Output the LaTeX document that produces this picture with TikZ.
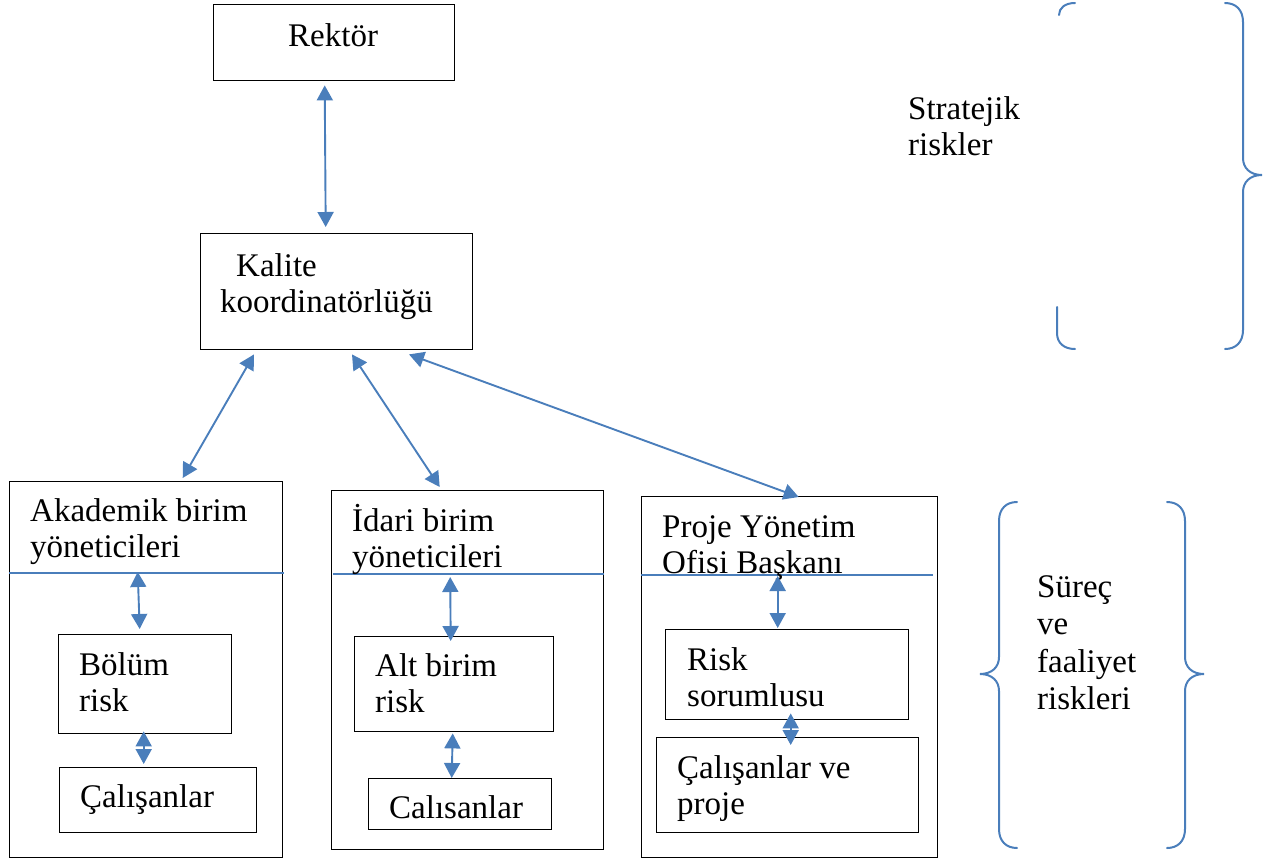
\documentclass[tikz,border=0pt]{standalone}
\usepackage{fontspec}
\setmainfont{Liberation Serif}
\usetikzlibrary{arrows.meta,calc}
\definecolor{myblue}{HTML}{4A7EBB}
\begin{document}
\begin{tikzpicture}[x=1pt,y=-1pt,
 rbox/.style={draw=black, line width=1.4pt, inner sep=0pt, anchor=north west},
 lbl/.style={font=\fontsize{33}{36}\selectfont, inner sep=0pt, anchor=base west, align=left},
 bl/.style={draw=myblue, line width=1.6pt},
 dbl/.style={draw=myblue, line width=1.9pt, {Triangle[length=15pt,width=16pt]}-{Triangle[length=15pt,width=16pt]}},
 brace/.style={draw=myblue, line width=2pt, line cap=round}]
\useasboundingbox (0,0) rectangle (1268,860);

% boxes
\node[rbox, minimum width=241pt, minimum height=76pt] (rektor) at (213,4) {};
\node[rbox, minimum width=272pt, minimum height=116pt] (kalite) at (200,233) {};
\node[rbox, minimum width=273pt, minimum height=376pt] (akad) at (9,481) {};
\node[rbox, minimum width=272pt, minimum height=359pt] (idari) at (331,490) {};
\node[rbox, minimum width=296pt, minimum height=361pt] (proje) at (641,496) {};
\node[rbox, minimum width=173pt, minimum height=99pt] (bolum) at (58,634) {};
\node[rbox, minimum width=197pt, minimum height=65pt] (cal1) at (59,767) {};
\node[rbox, minimum width=199pt, minimum height=95pt] (alt) at (354,636) {};
\node[rbox, minimum width=183pt, minimum height=51pt] (cal2) at (368,778) {};
\node[rbox, minimum width=243pt, minimum height=90pt] (risk) at (665,629) {};
\node[rbox, minimum width=262pt, minimum height=95pt] (cal3) at (656,737) {};

% header lines
\draw[bl] ($(akad.north west)+(0,92)$) -- ($(akad.north east)+(1,92)$);
\draw[bl] ($(idari.north west)+(2,84)$) -- ($(idari.north east)+(0,84)$);
\draw[bl] ($(proje.north west)+(0,79)$) -- ($(proje.north east)+(-5,79)$);

% texts (base anchor = baseline of the last line)
\node[lbl] (t-rektor) at (288,46) {Rektör};
\node[lbl] (t-kal1) at (236,276) {Kalite};
\node[lbl] (t-kal2) at (220,312) {koordinatörlüğü};
\node[lbl] (t-strat) at (908,155) {Stratejik\\riskler};
\node[lbl] (t-akad) at (30,557) {Akademik birim\\yöneticileri};
\node[lbl] (t-bolum) at (79,711) {Bölüm\\risk};
\node[lbl] (t-cal1) at (80,807) {Çalışanlar};
\node[lbl] (t-idari) at (352,567) {İdari birim\\yöneticileri};
\node[lbl] (t-alt) at (375,712) {Alt birim\\risk};
\node[lbl] (t-cal2) at (389,818) {Calısanlar};
\node[lbl] (t-proje) at (662,573) {Proje Yönetim\\Ofisi Başkanı};
\node[lbl] (t-risk) at (687,706) {Risk\\sorumlusu};
\node[lbl] (t-cal3) at (677,814) {Çalışanlar ve\\proje};
\node[lbl, font=\fontsize{33}{37.5}\selectfont] (t-surec) at (1037,709.5) {Süreç\\ve\\faaliyet\\riskleri};

% connectors
\draw[dbl] ($(rektor.south)+(-9.5,4)$) -- ($(kalite.north)+(-11,-6)$);
\draw[dbl] ($(kalite.south west)+(54,4)$) -- ($(akad.north)+(36.5,-3)$);
\draw[dbl] ($(kalite.south west)+(152,4)$) -- ($(idari.north)+(-28,-3)$);
\draw[dbl] ($(kalite.south west)+(209,4)$) -- ($(proje.north)+(9,1)$);
\draw[dbl] ($(bolum.north)+(-7.5,-62)$) -- ($(bolum.north)+(-5.5,-5)$);
\draw[dbl] ($(bolum.south)+(-1.5,-3)$) -- ($(cal1.north)+(-14.5,-3)$);
\draw[dbl] ($(alt.north)+(-4,-59)$) -- ($(alt.north)+(-3.5,5)$);
\draw[dbl] ($(alt.south)+(-1.5,1)$) -- ($(cal2.north)+(-8.5,0)$);
\draw[dbl] ($(risk.north)+(-9.5,-53)$) -- ($(risk.north)+(-9.5,-1)$);
\draw[dbl] ($(risk.south)+(3.5,-7)$) -- ($(cal3.north)+(3,8)$);

% top braces
\draw[brace] (1075,3) .. controls (1065,3) and (1059,8) .. (1059,15);
\draw[brace] (1057,307) -- (1057,333) .. controls (1057,343) and (1064,349) .. (1075,349);
\draw[brace] (1225,3) .. controls (1236,3) and (1243,10) .. (1243,22) -- (1243,158)
  .. controls (1243,168) and (1250,175) .. (1262,175)
  .. controls (1250,175) and (1243,182) .. (1243,192) -- (1243,330)
  .. controls (1243,342) and (1236,349) .. (1225,349);

% bottom braces
\draw[brace] (1017,502) .. controls (1006,502) and (999,509) .. (999,521) -- (999,657)
  .. controls (999,667) and (992,674) .. (980,674)
  .. controls (992,674) and (999,681) .. (999,691) -- (999,829)
  .. controls (999,841) and (1006,848) .. (1017,848);
\draw[brace] (1167,502) .. controls (1178,502) and (1185,509) .. (1185,521) -- (1185,657)
  .. controls (1185,667) and (1192,674) .. (1204,674)
  .. controls (1192,674) and (1185,681) .. (1185,691) -- (1185,829)
  .. controls (1185,841) and (1178,848) .. (1167,848);
\end{tikzpicture}
\end{document}
